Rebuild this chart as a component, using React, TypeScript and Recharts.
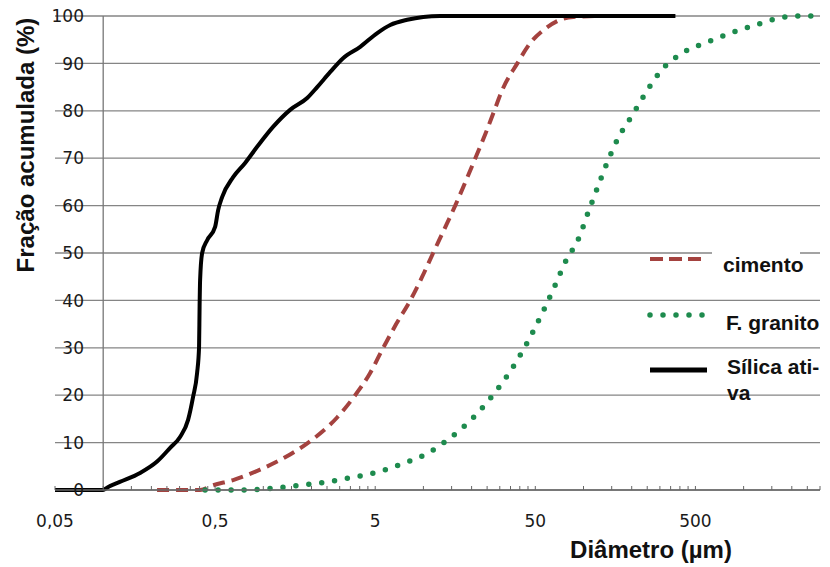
import React from "react";
import { LineChart, Line, XAxis, YAxis, CartesianGrid, ReferenceLine, Legend } from "recharts";

// Diameter (µm) and cumulative fraction (%) for each material
const silicaD = [0.05, 0.0998, 0.1057, 0.127, 0.17, 0.217, 0.262, 0.302, 0.339, 0.364, 0.386, 0.397, 0.4, 0.403, 0.415, 0.446, 0.5, 0.522, 0.553, 0.648, 0.77, 0.915, 1.15, 1.47, 1.88, 2.17, 2.62, 3.15, 4.03, 5.15, 6.21, 7.92, 9.98, 12.7, 375];
const silicaV = [0, 0, 0.5, 1.7, 3.6, 6, 8.9, 11.2, 14.8, 19.6, 24.7, 30.2, 38.6, 44.3, 50, 52.7, 55.5, 59, 61.8, 66, 69, 72.4, 76.6, 80.2, 82.7, 85, 88.2, 91.1, 93.5, 96.4, 98.1, 99.2, 99.8, 100, 100];

const cimentoD = [0.217, 0.403, 0.486, 0.648, 0.955, 1.47, 1.91, 2.89, 3.75, 4.65, 5.61, 6.76, 8.28, 9.83, 11.5, 13.5, 15.8, 18.3, 21.1, 24.3, 27.7, 31.1, 38.6, 46.5, 56.1, 71.6, 86.4, 127, 141];
const cimentoV = [0, 0, 1, 2.1, 4.3, 7.5, 10, 15.3, 20, 24.7, 30, 35, 40, 45, 50, 55, 60, 65, 70, 75, 80, 84.4, 90, 94.3, 97, 99.2, 99.8, 100, 100];

const granitoD = [0.433, 0.79, 1.15, 1.7, 2.51, 3.64, 5.22, 7.59, 10.7, 14.7, 19.6, 25.4, 32.0, 39.2, 47.2, 56.1, 65.7, 77, 94.2, 107, 122, 141, 165, 202, 247, 307, 415, 594, 864, 1238, 1799, 2170, 2811];
const granitoV = [0, 0, 0.4, 1, 1.7, 2.7, 3.8, 5.7, 7.8, 11, 14.6, 18.8, 23.2, 27.8, 32.7, 37.8, 42.8, 48.1, 53.4, 58.6, 63.7, 69.2, 74.3, 79.1, 84, 88.6, 92.2, 94.5, 96.6, 98.3, 99.8, 100, 100];

// Axis ticks
const xMajorTicks = [0.05, 0.5, 5, 50, 500];
const xMajorLabels = ["0,05", "0,5", "5", "50", "500"];
const xMinorMultipliers = [1, 2, 3, 4, 5, 6, 7, 8, 9];
const xEndTicks = [500, 1000, 1500, 2000, 2500, 3000];
const yTicks = [0, 10, 20, 30, 40, 50, 60, 70, 80, 90, 100];

const seriesNames = ["cimento", "F. granito", "Sílica ativa"];

const zip = (d: number[], v: number[]) => d.map((x, i) => ({ d: x, v: v[i] }));
const silicaData = zip(silicaD, silicaV);
const cimentoData = zip(cimentoD, cimentoV);
const granitoData = zip(granitoD, granitoV);

const xTicks: number[] = [];
xMajorTicks.slice(0, 4).forEach((b) => xMinorMultipliers.forEach((m) => xTicks.push(b * m)));
xEndTicks.forEach((t) => xTicks.push(t));

const RED = "#a4423f";
const GREEN = "#1e8b4e";
const GRID = "#858585";
const TICK_FONT = "'DejaVu Sans', Verdana, sans-serif";
const BOLD_FONT = "'Liberation Sans', Arial, sans-serif";

const XTick = (props: any) => {
  const { x, y, payload } = props;
  const idx = xMajorTicks.findIndex((t) => Math.abs(t - payload.value) < 1e-9);
  return (
    <g>
      <line x1={x} x2={x} y1={y} y2={y - 4} stroke="#666" strokeWidth={1} />
      {idx >= 0 && (
        <text x={x} y={y + 37} textAnchor="middle" fontSize={17} fontFamily={TICK_FONT} fill="#1a1a1a">
          {xMajorLabels[idx]}
        </text>
      )}
    </g>
  );
};

const YTick = (props: any) => {
  const { y, payload } = props;
  return (
    <text x={84} y={y} dy="0.36em" textAnchor="end" fontSize={17} fontFamily={TICK_FONT} fill="#1a1a1a">
      {payload.value}
    </text>
  );
};

const LegendContent = () => {
  const ox = 640;
  const oy = 235;
  const tStyle = { fontSize: 21, fontWeight: 700, fontFamily: BOLD_FONT, fill: "#111" } as any;
  return (
    <svg width={190} height={180} style={{ display: "block", overflow: "visible" }}>
      <rect x={712 - ox} y={247 - oy} width={88} height={9} fill="#fff" />
      <line x1={650 - ox} x2={702 - ox} y1={259 - oy} y2={259 - oy} stroke={RED} strokeWidth={4} strokeDasharray="13 6" />
      <text x={723 - ox} y={272 - oy} {...tStyle}>{seriesNames[0]}</text>
      <line x1={650 - ox} x2={703 - ox} y1={315 - oy} y2={315 - oy} stroke={GREEN} strokeWidth={5.5} strokeLinecap="round" strokeDasharray="0 13" />
      <text x={726 - ox} y={330 - oy} {...tStyle}>{seriesNames[1]}</text>
      <line x1={650 - ox} x2={707 - ox} y1={370 - oy} y2={370 - oy} stroke="#000" strokeWidth={5} />
      <text x={727 - ox} y={374 - oy} {...tStyle}>Sílica ati-</text>
      <text x={727 - ox} y={400 - oy} {...tStyle}>va</text>
    </svg>
  );
};

export default function App() {
  return (
    <div style={{ position: "absolute", left: 0, top: 0, width: 830, height: 567, background: "#fff" }}>
      <LineChart width={830} height={567} margin={{ top: 16, right: 10, bottom: 0, left: 0 }}>
        <CartesianGrid horizontal={true} vertical={false} stroke={GRID} strokeWidth={1.3} />
        <XAxis
          dataKey="d"
          type="number"
          scale="log"
          domain={[0.05, 3000]}
          allowDataOverflow
          ticks={xTicks}
          interval={0}
          tick={<XTick />}
          tickSize={0}
          tickMargin={0}
          tickLine={false}
          axisLine={{ stroke: "#6a6a6a", strokeWidth: 1.3 }}
          height={77}
          label={{
            content: () => (
              <text x={651} y={558} textAnchor="middle" fontSize={24} fontWeight={700} fontFamily={BOLD_FONT} fill="#111">
                Diâmetro (µm)
              </text>
            ),
          }}
        />
        <YAxis
          type="number"
          domain={[0, 100]}
          ticks={yTicks}
          interval={0}
          width={55}
          axisLine={false}
          tickLine={false}
          tick={<YTick />}
          label={{
            content: () => (
              <text x={34} y={145} transform="rotate(-90 34 145)" textAnchor="middle" fontSize={24} fontWeight={700} fontFamily={BOLD_FONT} fill="#111">
                Fração acumulada (%)
              </text>
            ),
          }}
        />
        <ReferenceLine x={0.1} stroke="#777" strokeWidth={1.3} ifOverflow="extendDomain" />
        <Line data={cimentoData} dataKey="v" name={seriesNames[0]} type="monotone" stroke={RED} strokeWidth={4} strokeDasharray="12 7" dot={false} activeDot={false} isAnimationActive={false} />
        <Line data={granitoData} dataKey="v" name={seriesNames[1]} type="monotone" stroke={GREEN} strokeWidth={5.5} strokeLinecap="round" strokeDasharray="0 13" dot={false} activeDot={false} isAnimationActive={false} />
        <Line data={silicaData} dataKey="v" name={seriesNames[2]} type="monotone" stroke="#000" strokeWidth={4} dot={false} activeDot={false} isAnimationActive={false} />
        <Legend
          layout="horizontal"
          verticalAlign="middle"
          align="center"
          content={() => <LegendContent />}
          wrapperStyle={{ position: "absolute", left: 640, top: 235, width: 190, height: 180 }}
        />
      </LineChart>
    </div>
  );
}
